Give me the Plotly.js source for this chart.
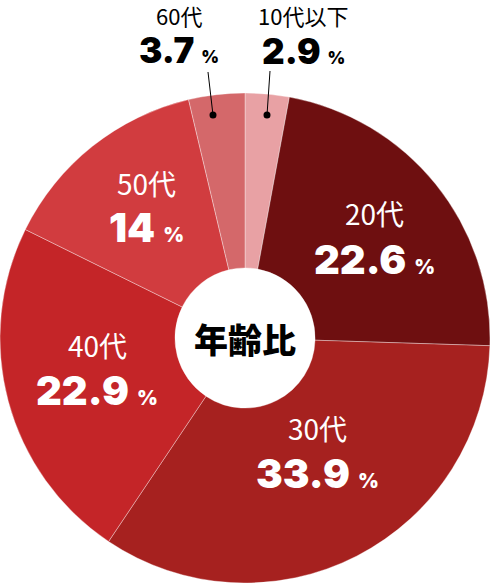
<!DOCTYPE html>
<html>
<head>
<meta charset="utf-8">
<script src="https://cdn.plot.ly/plotly-3.0.1.min.js"></script>
<style>
  html, body { margin: 0; padding: 0; background: #fff; }
  #myDiv { width: 490px; height: 583px; }
</style>
</head>
<body>
<div id="myDiv"></div>
<script>
var ageLabels = ['10代以下', '20代', '30代', '40代', '50代', '60代'];
var ageValues = [2.9, 22.6, 33.9, 22.9, 14, 3.7];
var sliceColors = ['#e8a1a4', '#6e0f10', '#a6211f', '#c42528', '#d13c3f', '#d4686a'];

// label / number positions in pixels (x, y of label, y of number)
var labelPos = [
  [303, 15, 51],
  [374, 213, 259],
  [317, 428, 473],
  [97, 345, 390],
  [146, 183, 228],
  [179, 15, 50]
];
var textColor = ['#000', '#fff', '#fff', '#fff', '#fff', '#000'];

var W = 490, H = 583;
function px(x) { return x / W; }
function py(y) { return 1 - y / H; }

var annotations = [];
for (let i = 0; i < ageLabels.length; i++) {
  let p = labelPos[i];
  let outer = i === 0 || i === 5;
  annotations.push({
    xref: 'paper', yref: 'paper', x: px(p[0]), y: py(p[1]),
    xanchor: 'center', yanchor: 'middle',
    text: ageLabels[i], showarrow: false,
    font: { family: 'Noto Sans CJK JP', size: outer ? 22 : 28, color: textColor[i] }
  });
  annotations.push({
    xref: 'paper', yref: 'paper', x: px(p[0]), y: py(p[2]),
    xanchor: 'center', yanchor: 'middle',
    text: ageValues[i] + '<span style="font-size:' + (outer ? 17 : 20) + 'px">  %</span>',
    showarrow: false,
    font: { family: 'Inter', size: outer ? 35 : 40, weight: 900, color: textColor[i] }
  });
}
annotations.push({
  xref: 'paper', yref: 'paper', x: px(245), y: py(338),
  xanchor: 'center', yanchor: 'middle',
  text: '年齢比', showarrow: false,
  font: { family: 'Noto Sans CJK JP', size: 34, weight: 900, color: '#000' }
});

var shapes = [
  { type: 'line', xref: 'paper', yref: 'paper', x0: px(208), y0: py(72), x1: px(213), y1: py(115),
    line: { color: '#000', width: 1 } },
  { type: 'line', xref: 'paper', yref: 'paper', x0: px(270), y0: py(71), x1: px(267), y1: py(115),
    line: { color: '#000', width: 1 } },
  { type: 'circle', xref: 'paper', yref: 'paper', x0: px(209.5), y0: py(111.5), x1: px(216.5), y1: py(118.5),
    fillcolor: '#000', line: { width: 0 } },
  { type: 'circle', xref: 'paper', yref: 'paper', x0: px(263.5), y0: py(111.5), x1: px(270.5), y1: py(118.5),
    fillcolor: '#000', line: { width: 0 } }
];

var trace = {
  type: 'pie',
  labels: ageLabels,
  values: ageValues,
  sort: false,
  direction: 'clockwise',
  rotation: 0,
  hole: 0.286,
  textinfo: 'none',
  hoverinfo: 'label+percent',
  marker: { colors: sliceColors, line: { color: 'rgba(255,255,255,0.35)', width: 1 } },
  domain: { x: [0, 1], y: [0, 490 / 583] }
};

var layout = {
  width: W,
  height: H,
  margin: { l: 0, r: 0, t: 0, b: 0 },
  showlegend: false,
  paper_bgcolor: '#fff',
  annotations: annotations,
  shapes: shapes
};

Plotly.newPlot('myDiv', [trace], layout, { displayModeBar: false, staticPlot: true });
</script>
</body>
</html>
